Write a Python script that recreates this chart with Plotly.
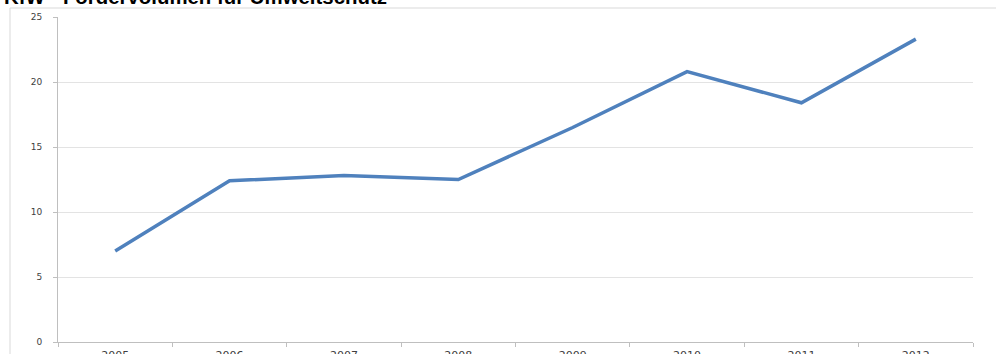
import plotly.graph_objects as go

years = ["2005", "2006", "2007", "2008", "2009", "2010", "2011", "2012"]
values = [7.0, 12.4, 12.8, 12.5, 16.5, 20.8, 18.4, 23.3]
y_ticks = [0, 5, 10, 15, 20, 25]
title_text = "KfW - Fördervolumen für Umweltschutz"

W, H = 996, 354
ml, mr, mt, mb = 58, 23, 17, 12
pw, ph = W - ml - mr, H - mt - mb

def px_to_paper_x(px):
    return (px - ml) / pw

def px_to_paper_y(py):
    return (H - mb - py) / ph

fig = go.Figure()
fig.add_trace(go.Scatter(
    x=years, y=values, mode="lines",
    line=dict(color="#4F81BD", width=3.5),
    hoverinfo="x+y",
))

fig.add_shape(type="rect", xref="paper", yref="paper",
              x0=px_to_paper_x(10), x1=px_to_paper_x(1100),
              y0=px_to_paper_y(400), y1=px_to_paper_y(8),
              line=dict(color="#d9d9d9", width=1), layer="below")

fig.add_annotation(text="<b>" + title_text + "</b>", xref="paper", yref="paper",
                   x=px_to_paper_x(2), y=px_to_paper_y(10), xanchor="left", yanchor="bottom",
                   showarrow=False, font=dict(family="Liberation Sans, Arial", size=20.4, color="#000000"))

fig.update_layout(
    width=W, height=H,
    margin=dict(l=ml, r=mr, t=mt, b=mb, autoexpand=False),
    paper_bgcolor="white", plot_bgcolor="white",
    showlegend=False,
    font=dict(family="DejaVu Sans", color="#595959"),
)
fig.update_xaxes(
    type="category", tickson="boundaries", range=[-0.5, 7.5], automargin=False,
    showgrid=False, showline=True, linecolor="#bfbfbf", linewidth=1,
    ticks="outside", ticklen=4, tickcolor="#bfbfbf",
    tickfont=dict(size=11, color="#404040"), ticklabelstandoff=3,
)
fig.update_yaxes(
    range=[0, 25], tickvals=y_ticks, showgrid=True, gridcolor="#e3e3e3", gridwidth=1,
    automargin=False,
    showline=True, linecolor="#bfbfbf", linewidth=1, zeroline=False,
    ticks="outside", ticklen=4, tickcolor="#bfbfbf",
    tickfont=dict(size=9, color="#404040"), ticklabelstandoff=9,
)

fig.write_html("out.html")
